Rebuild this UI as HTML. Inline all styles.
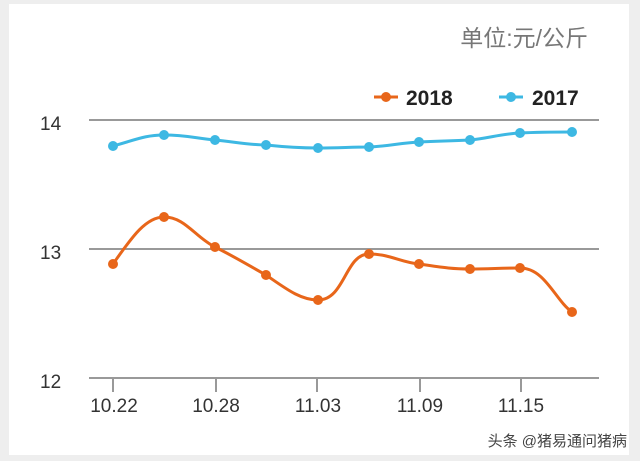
<!DOCTYPE html><html><head><meta charset="utf-8"><style>body{margin:0;background:#eeeeee;width:640px;height:461px;overflow:hidden}</style></head><body>
<svg width="640" height="461" xmlns="http://www.w3.org/2000/svg" style="position:absolute;left:0;top:0">
<rect x="9" y="4" width="620" height="451" fill="#fff"/>
<text x="588" y="46" text-anchor="end" font-family="Liberation Sans,Noto Sans CJK SC,sans-serif" font-size="23" fill="#777">单位:元/公斤</text>
<line x1="374" y1="97" x2="398" y2="97" stroke="#e8661a" stroke-width="3"/><circle cx="386" cy="97" r="5" fill="#e8661a"/>
<text x="406" y="105" font-family="Liberation Sans,sans-serif" font-weight="bold" font-size="21" fill="#222">2018</text>
<line x1="499" y1="97" x2="523" y2="97" stroke="#3db8e3" stroke-width="3"/><circle cx="511" cy="97" r="5" fill="#3db8e3"/>
<text x="532" y="105" font-family="Liberation Sans,sans-serif" font-weight="bold" font-size="21" fill="#222">2017</text>
<g stroke="#999" stroke-width="2"><line x1="89" y1="120" x2="599" y2="120"/><line x1="89" y1="249" x2="599" y2="249"/><line x1="89" y1="378" x2="599" y2="378"/>
<line x1="113" y1="378" x2="113" y2="392"/><line x1="216" y1="378" x2="216" y2="392"/><line x1="317" y1="378" x2="317" y2="392"/><line x1="420" y1="378" x2="420" y2="392"/><line x1="521" y1="378" x2="521" y2="392"/></g>
<g font-family="Liberation Sans,sans-serif" font-size="19" fill="#333">
<text x="40" y="130">14</text><text x="40" y="259">13</text><text x="40" y="388">12</text>
<g text-anchor="middle"><text x="114" y="412">10.22</text><text x="216" y="412">10.28</text><text x="318" y="412">11.03</text><text x="420" y="412">11.09</text><text x="521" y="412">11.15</text></g></g>
<path d="M113,146 C135,140 145,135 164,135 C185,135 195,138 215,140 C235,142 250,145 266,145 C285,147 300,148 318,148 C340,148 350,147 369,147 C390,146 400,143 419,142 C440,141 450,141 470,140 C490,138 500,134 520,133 C540,132 555,132 572,132" fill="none" stroke="#3db8e3" stroke-width="3"/>
<g fill="#3db8e3"><circle cx="113" cy="146" r="5"/><circle cx="164" cy="135" r="5"/><circle cx="215" cy="140" r="5"/><circle cx="266" cy="145" r="5"/><circle cx="318" cy="148" r="5"/><circle cx="369" cy="147" r="5"/><circle cx="419" cy="142" r="5"/><circle cx="470" cy="140" r="5"/><circle cx="520" cy="133" r="5"/><circle cx="572" cy="132" r="5"/></g>
<path d="M113,264 C130,240 145,217 164,217 C185,217 195,237 215,247 C235,257 248,265 266,275 C285,288 300,300 318,300 C345,300 345,254 369,254 C390,254 400,262 419,264 C440,267 450,269 470,269 C490,269 500,268 520,268 C545,268 555,300 572,312" fill="none" stroke="#e8661a" stroke-width="3"/>
<g fill="#e8661a"><circle cx="113" cy="264" r="5"/><circle cx="164" cy="217" r="5"/><circle cx="215" cy="247" r="5"/><circle cx="266" cy="275" r="5"/><circle cx="318" cy="300" r="5"/><circle cx="369" cy="254" r="5"/><circle cx="419" cy="264" r="5"/><circle cx="470" cy="269" r="5"/><circle cx="520" cy="268" r="5"/><circle cx="572" cy="312" r="5"/></g>
<text x="627" y="446" text-anchor="end" font-family="Liberation Sans,Noto Sans CJK SC,sans-serif" font-size="15" fill="#444">头条 @猪易通问猪病</text>
</svg></body></html>
